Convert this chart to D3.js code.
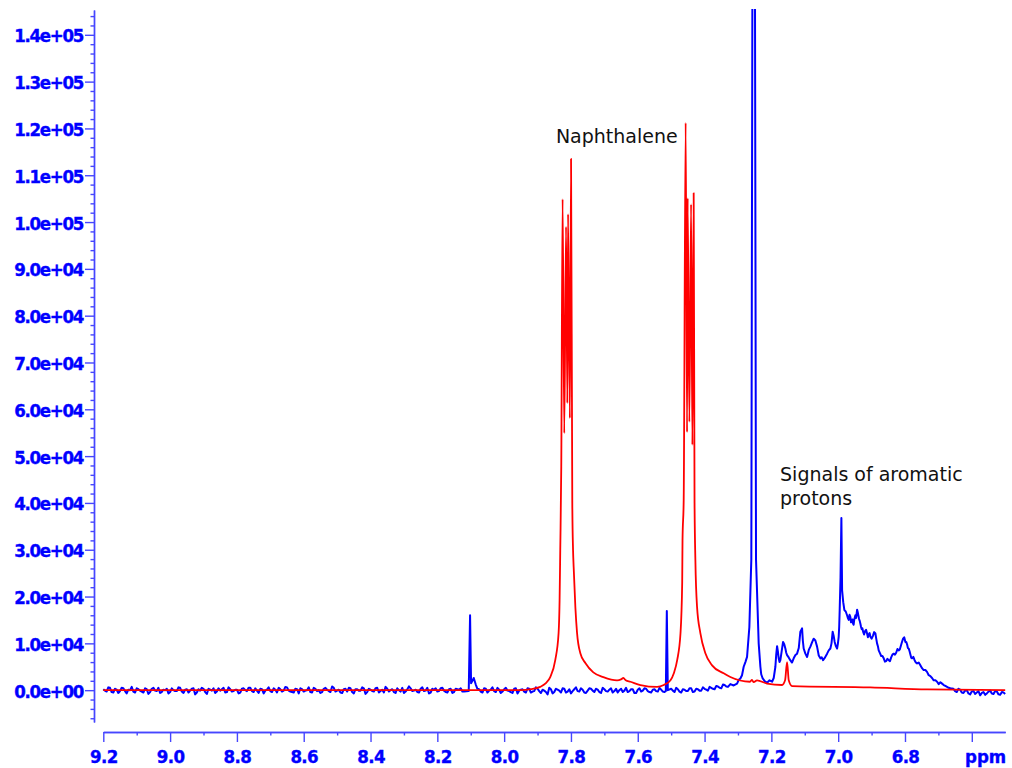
<!DOCTYPE html>
<html>
<head>
<meta charset="utf-8">
<script src="https://cdn.jsdelivr.net/npm/d3@7"></script>
<style>
  body { margin: 0; background: #fff; }
  svg { display: block; }
</style>
</head>
<body>
<div id="chart"></div>
<script>
// spectrum readings as [ppm, intensity]
const blueBaseA = [
  [9.20,200],[9.19,-300],[9.18,500],[9.17,-500],[9.16,100],[9.15,-200],[9.14,400],[9.13,-700],[9.12,0],[9.11,-300],
  [9.10,400],[9.09,-100],[9.08,-500],[9.07,200],[9.06,-400],[9.05,500],[9.04,-200],[9.03,-600],[9.02,100],[9.01,300],
  [9.00,-400],[8.99,0],[8.98,-200],[8.97,500],[8.96,-600],[8.95,200],[8.94,-100],[8.93,400],[8.92,-500],[8.91,-100],
  [8.90,300],[8.89,-800],[8.88,100],[8.87,400],[8.86,-300],[8.85,-100],[8.84,500],[8.83,-400],[8.82,200],[8.81,-200],
  [8.80,100],[8.79,-500],[8.78,400],[8.77,-200],[8.76,500],[8.75,-400],[8.74,-100],[8.73,300],[8.72,-700],[8.71,100],
  [8.70,-200],[8.69,400],[8.68,-500],[8.67,200],[8.66,-100],[8.65,600],[8.64,-300],[8.63,-500],[8.62,200],[8.61,400],
  [8.60,-300],[8.59,0],[8.58,-400],[8.57,500],[8.56,-200],[8.55,-600],[8.54,300],[8.53,100],[8.52,-400],[8.51,500],
  [8.50,-100],[8.49,-500],[8.48,200],[8.47,-300],[8.46,400],[8.45,-700],[8.44,200],[8.43,-100],[8.42,400],[8.41,-400],
  [8.40,100],[8.39,-300],[8.38,500],[8.37,-200],[8.36,-500],[8.35,300],[8.34,0],[8.33,-400],[8.32,400],[8.31,-300],
  [8.30,-600],[8.29,200],[8.28,400],[8.27,-100],[8.26,-400],[8.25,300],[8.24,-200],[8.23,500],[8.22,-500],[8.21,100],
  [8.20,-300],[8.19,400],[8.18,-100],[8.17,-500],[8.16,300],[8.15,-400],[8.14,200],[8.13,400],[8.12,-300]
];
const blueBaseA2 = [
  [9.195,-100],[9.185,600],[9.175,-400],[9.165,300],[9.155,-600],[9.145,500],[9.135,-200],[9.125,100],[9.115,700],[9.105,-500],
  [9.095,200],[9.085,-300],[9.075,400],[9.065,-800],[9.055,300],[9.045,-100],[9.035,500],[9.025,-400],[9.015,0],[9.005,-700],
  [8.995,400],[8.985,-200],[8.975,600],[8.965,-300],[8.955,100],[8.945,-500],[8.935,300],[8.925,-900],[8.915,200],[8.905,500],
  [8.895,-400],[8.885,300],[8.875,-100],[8.865,-600],[8.855,400],[8.845,200],[8.835,-500],[8.825,600],[8.815,-300],[8.805,100],
  [8.795,-700],[8.785,300],[8.775,0],[8.765,500],[8.755,-200],[8.745,400],[8.735,-600],[8.725,200],[8.715,-100],[8.705,600],
  [8.695,-400],[8.685,100],[8.675,500],[8.665,-300],[8.655,700],[8.645,-100],[8.635,-400],[8.625,300],[8.615,-700],[8.605,200],
  [8.595,-100],[8.585,600],[8.575,-500],[8.565,300],[8.555,0],[8.545,-400],[8.535,500],[8.525,-200],[8.515,800],[8.505,-300],
  [8.495,100],[8.485,-600],[8.475,300],[8.465,500],[8.455,-400],[8.445,200],[8.435,-100],[8.425,600],[8.415,-800],[8.405,300],
  [8.395,-200],[8.385,400],[8.375,-500],[8.365,100],[8.355,700],[8.345,-300],[8.335,200],[8.325,-600],[8.315,0],[8.305,500],
  [8.295,-300],[8.285,800],[8.275,-200],[8.265,100],[8.255,-500],[8.245,600],[8.235,-100],[8.225,-700],[8.215,300],[8.205,400],
  [8.195,-200],[8.185,500],[8.175,-400],[8.165,200],[8.155,-600],[8.145,300],[8.135,100],[8.125,-300]
];
const blueSpikeA = [[8.106,-200],[8.102,16000],[8.099,1500],[8.095,2000],[8.091,2600],[8.085,1200],[8.080,300]];
const blueBaseB = [
  [8.07,-300],[8.06,400],[8.05,-500],[8.04,100],[8.03,-200],[8.02,500],[8.01,-600],[8.00,200],[7.99,-100],[7.98,-400],
  [7.97,300],[7.96,-700],[7.95,100],[7.94,-300],[7.93,400],[7.92,-500],[7.91,-200],[7.90,300],[7.89,-600],[7.88,-100],
  [7.87,-900],[7.86,200],[7.85,-400],[7.84,100],[7.83,-500],[7.82,300],[7.81,-300],[7.80,-700],[7.79,200],[7.78,-200],
  [7.77,400],[7.76,-500],[7.75,-100],[7.74,300],[7.73,-400],[7.72,100],[7.71,-600],[7.70,200],[7.69,-300],[7.68,400],
  [7.67,-200],[7.66,-500],[7.65,300],[7.64,-100],[7.63,-400],[7.62,200],[7.61,-600],[7.60,100],[7.59,-300],[7.58,400],
  [7.57,-200],[7.56,-500],[7.55,200],[7.54,-300],[7.53,100],[7.52,-400]
];
const blueBaseB2 = [
  [8.075,200],[8.065,-500],[8.055,300],[8.045,-100],[8.035,600],[8.025,-400],[8.015,100],[8.005,-300],[7.995,500],[7.985,-200],
  [7.975,-600],[7.965,400],[7.955,-100],[7.945,200],[7.935,-500],[7.925,300],[7.915,-300],[7.905,600],[7.895,-200],[7.885,100],
  [7.875,-400],[7.865,500],[7.855,-700],[7.845,300],[7.835,-100],[7.825,400],[7.815,-500],[7.805,200],[7.795,-200],[7.785,600],
  [7.775,-300],[7.765,100],[7.755,-600],[7.745,400],[7.735,-100],[7.725,300],[7.715,-400],[7.705,500],[7.695,-200],[7.685,100],
  [7.675,-500],[7.665,300],[7.655,0],[7.645,-400],[7.635,500],[7.625,-200],[7.615,200],[7.605,-600],[7.595,400],[7.585,-100],
  [7.575,300],[7.565,-400],[7.555,100],[7.545,-200],[7.535,500],[7.525,-300]
];
const blueSpikeB = [[7.516,-200],[7.513,16900],[7.510,0]];
const blueBaseC = [
  [7.50,300],[7.49,-400],[7.48,200],[7.47,-500],[7.46,100],[7.45,-200],[7.44,400],[7.43,-300],[7.42,200],[7.41,-100],
  [7.40,300],[7.39,-100],[7.38,500],[7.37,200],[7.36,800],[7.35,400],[7.34,1100],[7.33,700]
];
const blueBaseC2 = [
  [7.495,-100],[7.485,500],[7.475,-300],[7.465,200],[7.455,-200],[7.445,400],[7.435,-400],[7.425,300],[7.415,-100],
  [7.405,600],[7.395,100],[7.385,700],[7.375,300],[7.365,900],[7.355,500],[7.345,1200],[7.335,800]
];
const blueAromatic = [
  [7.3228,1300],[7.3027,1400],[7.2928,2500],[7.2829,5000],[7.2728,7100],[7.2659,13500],[7.2600,28000],
  [7.2529,300000],[7.2460,28000],[7.2380,10000],[7.2329,5000],[7.2260,2500],[7.2129,1600],[7.1979,1800],
  [7.1880,5000],[7.1829,9400],[7.1781,6800],[7.1731,6400],[7.1650,10300],[7.1581,8900],[7.1530,7500],
  [7.1434,6400],[7.1332,6800],[7.1231,7800],[7.1132,12500],[7.1081,13200],[7.1033,8900],[7.0931,7100],
  [7.0832,9300],[7.0734,11000],[7.0632,9300],[7.0533,6800],[7.0452,6400],[7.0332,7800],[7.0234,8900],
  [7.0165,12500],[7.0105,10300],[7.0033,8900],[6.9985,11400],[6.9955,17100],[6.9904,36800],[6.9883,21400],
  [6.9814,17100],[6.9734,16000],[6.9684,15000],[6.9635,15600],[6.9595,14800],[6.9554,14200],[6.9520,15000],
  [6.9485,16000],[6.9450,16200],[6.9416,16700],[6.9375,15200],[6.9335,14200],[6.9295,13000],[6.9254,12500],
  [6.9195,12600],[6.9135,12100],[6.9085,11900],[6.9036,11400],[6.8960,11600],[6.8886,12100],[6.8836,10000],
  [6.8787,8500],[6.8712,7300],[6.8637,6800],[6.8562,6200],[6.8488,6400],[6.8413,7000],[6.8338,7800],
  [6.8264,8000],[6.8189,8500],[6.8123,9500],[6.8057,11000],[6.7988,10300],[6.7938,9800],[6.7889,8900],
  [6.7838,7600],[6.7788,6800],[6.7713,6400],[6.7638,5700],[6.7540,5300],[6.7441,4300],[6.7340,3900],
  [6.7240,3000],[6.7140,2100],[6.7039,1800],[6.6940,1700],[6.6841,1100],[6.6741,700],[6.6641,400]
];
const blueAromatic2 = [
  [7.3128,1000],[7.2978,2200],[7.2879,3200],[7.2778,6000],[7.2304,3400],[7.2195,1900],[7.2055,2100],[7.1930,2600],
  [7.1855,7600],[7.1805,8300],[7.1756,6000],[7.1690,8400],[7.1615,9800],[7.1555,8000],[7.1482,7000],[7.1383,5900],
  [7.1280,7500],[7.1180,9000],[7.1057,10500],[7.0982,7800],[7.0880,8600],[7.0783,10200],[7.0683,10600],[7.0582,7400],
  [7.0492,7000],[7.0392,7000],[7.0283,8500],[7.0200,10000],[7.0135,11600],[7.0069,9400],[7.0009,9900],[6.9970,13500],
  [6.9930,24000],[6.9849,18800],[6.9774,16800],[6.9710,15400],[6.9660,16100],[6.9615,14500],[6.9575,15100],
  [6.9537,14000],[6.9502,15500],[6.9467,15400],[6.9433,17200],[6.9395,15900],[6.9355,14800],[6.9315,13500],
  [6.9275,13200],[6.9225,11900],[6.9165,12900],[6.9110,11300],[6.9060,12200],[6.8998,11000],[6.8923,12400],
  [6.8861,11000],[6.8811,9400],[6.8750,7900],[6.8675,7300],[6.8600,6100],[6.8525,6700],[6.8450,6200],[6.8376,7600],
  [6.8301,7600],[6.8226,8800],[6.8156,8700],[6.8090,10300],[6.8023,11300],[6.7963,10300],[6.7913,9000],[6.7863,8300],
  [6.7813,6900],[6.7750,7100],[6.7675,5900],[6.7589,5900],[6.7490,4700],[6.7390,4300],[6.7290,3200],[6.7190,2600],
  [6.7089,2100],[6.6990,1300],[6.6890,1400],[6.6791,900],[6.6691,500]
];
const blueBaseD = [
  [6.65,-200],[6.64,300],[6.63,-500],[6.62,-100],[6.61,-700],[6.60,-300],[6.59,-800],[6.58,-200],
  [6.57,-600],[6.56,-1000],[6.55,-300],[6.54,-700],[6.53,-200],[6.52,-900],[6.51,-400],[6.50,-800]
];
const blueBaseD2 = [
  [6.655,300],[6.645,-400],[6.635,100],[6.625,-600],[6.615,0],[6.605,-900],[6.595,-200],[6.585,-500],
  [6.575,-1100],[6.565,-400],[6.555,-700],[6.545,-100],[6.535,-800],[6.525,-300],[6.515,-1000],[6.505,-500]
];

const redNaphthalene = [
  [9.20,0],[7.95,0],[7.92,200],[7.892,700],[7.875,1500],[7.862,2800],[7.847,6400],[7.837,12200],[7.834,19200],
  [7.832,30000],[7.829,47700],[7.825,104900],[7.820,54900],[7.8147,99000],[7.8108,61300],[7.8087,101700],
  [7.8033,58100],[7.7997,113500],[7.7960,40000],[7.7937,29900],[7.7919,26300],[7.7868,17700],[7.7817,12200],
  [7.7719,7900],[7.7569,5800],[7.733,3800],[7.703,2800],[7.662,2100],[7.650,2300],[7.643,2600],[7.636,2100],
  [7.622,1800],[7.592,1100],[7.542,700],[7.522,1100],[7.502,2100],[7.492,3600],[7.482,6400],[7.472,12200],
  [7.467,22900],[7.466,32000],[7.4625,40600],[7.4566,121200],[7.4524,55100],[7.4506,105100],[7.4455,57300],
  [7.4404,103800],[7.4365,52400],[7.4326,106200],[7.4300,40000],[7.4275,27800],[7.4225,17800],[7.4126,12200],
  [7.3976,7900],[7.3775,5300],[7.3428,3600],[7.3228,2800],[7.264,1800],[7.258,2200],[7.253,1700],[7.243,2100],
  [7.213,1400],[7.168,1100],[7.159,2100],[7.153,6000],[7.148,2100],[7.138,850],[6.904,580],[6.734,150],[6.50,0]
];

const xMajorTicks = [9.2, 9.0, 8.8, 8.6, 8.4, 8.2, 8.0, 7.8, 7.6, 7.4, 7.2, 7.0, 6.8, 6.6];
const xMinorTicks = [9.1, 8.9, 8.7, 8.5, 8.3, 8.1, 7.9, 7.7, 7.5, 7.3, 7.1, 6.9, 6.7];
const yMajorTicks = [0, 1e4, 2e4, 3e4, 4e4, 5e4, 6e4, 7e4, 8e4, 9e4, 1e5, 1.1e5, 1.2e5, 1.3e5, 1.4e5];

const notes = [
  { lines: ['Naphthalene'], ppm: 7.845, value: 116900 },
  { lines: ['Signals of aromatic', 'protons'], ppm: 7.174, value: 44700 }
];

function drawChart() {
  const width = 1012;
  const height = 768;
  const axisColor = '#4646ff';
  const labelColor = '#0000ff';
  const tickFont = '"DejaVu Sans Condensed", "DejaVu Sans", Verdana, sans-serif';
  const noteFont = '"DejaVu Sans", Verdana, sans-serif';

  const svg = d3.select('#chart').append('svg').attr('width', width).attr('height', height);

  const x = d3.scaleLinear().domain([9.2, 6.5]).range([103.3, 1005.2]);
  const y = d3.scaleLinear().domain([-6800, 145300]).range([722, 10]);

  svg.append('defs').append('clipPath').attr('id', 'plot-clip')
    .append('rect').attr('x', 94).attr('y', 9).attr('width', 913).attr('height', 723);

  // y axis, major and minor ticks
  const yFormat = (v) => v.toExponential(1).replace(/e([+-])(\d)$/, 'e$10$2');
  const yMinor = d3.range(-6000, 145000, 2000).filter((v) => v % 10000 !== 0);

  const yAxisG = svg.append('g').attr('transform', 'translate(94,0)');
  yAxisG.call(d3.axisLeft(y).tickValues(yMinor).tickSize(3.5).tickSizeOuter(0).tickFormat(''));
  yAxisG.append('g').call(d3.axisLeft(y).tickValues(yMajorTicks).tickSize(9).tickSizeOuter(0).tickFormat(yFormat));

  // x axis
  const xAxisG = svg.append('g').attr('transform', 'translate(0,732)');
  xAxisG.call(d3.axisBottom(x).tickValues(xMinorTicks).tickSize(3.5).tickSizeOuter(0).tickFormat(''));
  xAxisG.append('g').call(
    d3.axisBottom(x).tickValues(xMajorTicks).tickSize(10).tickSizeOuter(0)
      .tickFormat((v) => (v < 6.7 ? '' : d3.format('.1f')(v)))
  );

  svg.selectAll('.domain, .tick line').attr('stroke', axisColor).attr('stroke-width', 1.4);
  svg.selectAll('.tick text')
    .attr('fill', labelColor)
    .attr('stroke', labelColor)
    .attr('stroke-width', 0.35)
    .attr('font-family', tickFont)
    .attr('font-weight', 'bold')
    .attr('font-size', 18.5);

  yAxisG.selectAll('.tick text').attr('x', -11).attr('dy', 7).attr('letter-spacing', -1.3);
  xAxisG.selectAll('.tick text').attr('y', 31).attr('dy', 0).attr('letter-spacing', -0.6);

  svg.append('text')
    .attr('x', 965)
    .attr('y', 763)
    .attr('fill', labelColor)
    .attr('stroke', labelColor)
    .attr('stroke-width', 0.35)
    .attr('font-family', tickFont)
    .attr('font-weight', 'bold')
    .attr('font-size', 18.5)
    .text('ppm');

  const line = d3.line().x((d) => x(d[0])).y((d) => y(d[1]));
  const smooth = d3.line().x((d) => x(d[0])).y((d) => y(d[1])).curve(d3.curveMonotoneX);
  const plot = svg.append('g').attr('clip-path', 'url(#plot-clip)');

  const blue = d3.sort(
    [].concat(blueBaseA, blueBaseA2, blueSpikeA, blueBaseB, blueBaseB2, blueSpikeB, blueBaseC, blueBaseC2,
      blueAromatic, blueAromatic2, blueBaseD, blueBaseD2),
    (a, b) => b[0] - a[0]
  );

  plot.append('path')
    .datum(blue)
    .attr('d', line)
    .attr('fill', 'none')
    .attr('stroke', '#0000ff')
    .attr('stroke-width', 2)
    .attr('stroke-linejoin', 'round');

  plot.append('path')
    .datum(redNaphthalene)
    .attr('d', smooth)
    .attr('fill', 'none')
    .attr('stroke', '#ff0000')
    .attr('stroke-width', 1.8)
    .attr('stroke-linejoin', 'round');

  // annotations
  notes.forEach((n) => {
    const t = svg.append('text')
      .attr('x', x(n.ppm))
      .attr('y', y(n.value))
      .attr('fill', '#111')
      .attr('font-family', noteFont)
      .attr('font-size', 19);
    n.lines.forEach((s, i) => {
      t.append('tspan').attr('x', x(n.ppm)).attr('dy', i === 0 ? 0 : 24).text(s);
    });
  });
}

drawChart();
</script>
</body>
</html>
